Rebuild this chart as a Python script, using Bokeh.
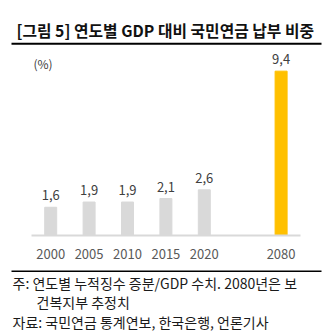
from bokeh.plotting import figure
from bokeh.models import Range1d, FixedTicker, Label, ColumnDataSource
from bokeh.core.properties import value
from bokeh.embed import file_html
from bokeh.resources import INLINE

# ---- data ----
years = ["2000", "2005", "2010", "2015", "2020", "2080"]
shares = [1.6, 1.9, 1.9, 2.1, 2.6, 9.4]
value_labels = ["1,6", "1,9", "1,9", "2,1", "2,6", "9,4"]
title_text = "[그림 5] 연도별 GDP 대비 국민연금 납부 비중"
unit_text = "(%)"
note_lines = ["주: 연도별 누적징수 증분/GDP 수치. 2080년은 보", "건복지부 추정치"]
source_text = "자료: 국민연금 통계연보, 한국은행, 언론기사"

FONT = "Noto Sans CJK KR"
W, H = 334, 336

# slot positions: one empty slot before the projected year
pos = list(range(len(years) - 1)) + [len(years)]
colors = ["#d9d9d9"] * (len(years) - 1) + ["#ffc000"]

# pixel geometry of the chart area
SLOT_PX = 38.4
X0_PX = 50.2
UNIT_PX = 17.45
BASE_PX = 234.7

def xd(px):
    return (px - X0_PX) / SLOT_PX

def yd(py):
    return (BASE_PX - py) / UNIT_PX

p = figure(width=W, height=H, output_backend="svg", toolbar_location=None,
           x_range=Range1d(xd(0), xd(W)), y_range=Range1d(yd(H), yd(0)),
           min_border=0, min_border_left=0, min_border_right=0,
           min_border_top=0, min_border_bottom=0)
p.outline_line_color = None
p.xgrid.visible = False
p.ygrid.visible = False
p.yaxis.visible = False
p.background_fill_color = "white"
p.border_fill_color = "white"

src = ColumnDataSource(dict(x=pos, top=shares, color=colors, lab=value_labels))
p.vbar(x="x", top="top", width=12 / SLOT_PX, bottom=0, color="color", source=src)
p.text(x="x", y="top", text="lab", source=src, y_offset=-12,
       text_align="center", text_baseline="alphabetic",
       text_font=value(FONT), text_font_size="13px", text_color="#404040")

ax = p.xaxis[0]
ax.fixed_location = 0
ax.bounds = (-0.5, len(years) + 0.5)
ax.ticker = FixedTicker(ticks=pos)
ax.major_label_overrides = {float(k): y for k, y in zip(pos, years)}
ax.axis_line_color = "#d9d9d9"
ax.axis_line_width = 2
ax.major_tick_line_color = None
ax.minor_tick_line_color = None
ax.major_label_standoff = 8
ax.major_label_text_font = FONT
ax.major_label_text_font_size = "13px"
ax.major_label_text_color = "#595959"

# rules
p.segment(x0=[xd(11), xd(11)], x1=[xd(321), xd(321)],
          y0=[yd(43.3), yd(270.8)], y1=[yd(43.3), yd(270.8)],
          line_color="black", line_width=[2, 1.5])

p.add_layout(Label(x=xd(16), y=yd(30), text=title_text, text_font=FONT,
                   text_font_size="15.8px", text_font_style="bold",
                   text_color="#111111", text_baseline="middle"))
p.add_layout(Label(x=xd(42.5), y=yd(63), text=unit_text, text_font=FONT,
                   text_font_size="12px", text_color="#404040",
                   text_align="center", text_baseline="middle"))
p.add_layout(Label(x=xd(12), y=yd(282), text=note_lines[0], text_font=FONT,
                   text_font_size="14px", text_color="#1a1a1a", text_baseline="middle"))
p.add_layout(Label(x=xd(36), y=yd(301.5), text=note_lines[1], text_font=FONT,
                   text_font_size="14px", text_color="#1a1a1a", text_baseline="middle"))
p.add_layout(Label(x=xd(12), y=yd(321.5), text=source_text, text_font=FONT,
                   text_font_size="14px", text_color="#1a1a1a", text_baseline="middle"))

open("out.html", "w").write(file_html(p, INLINE))
